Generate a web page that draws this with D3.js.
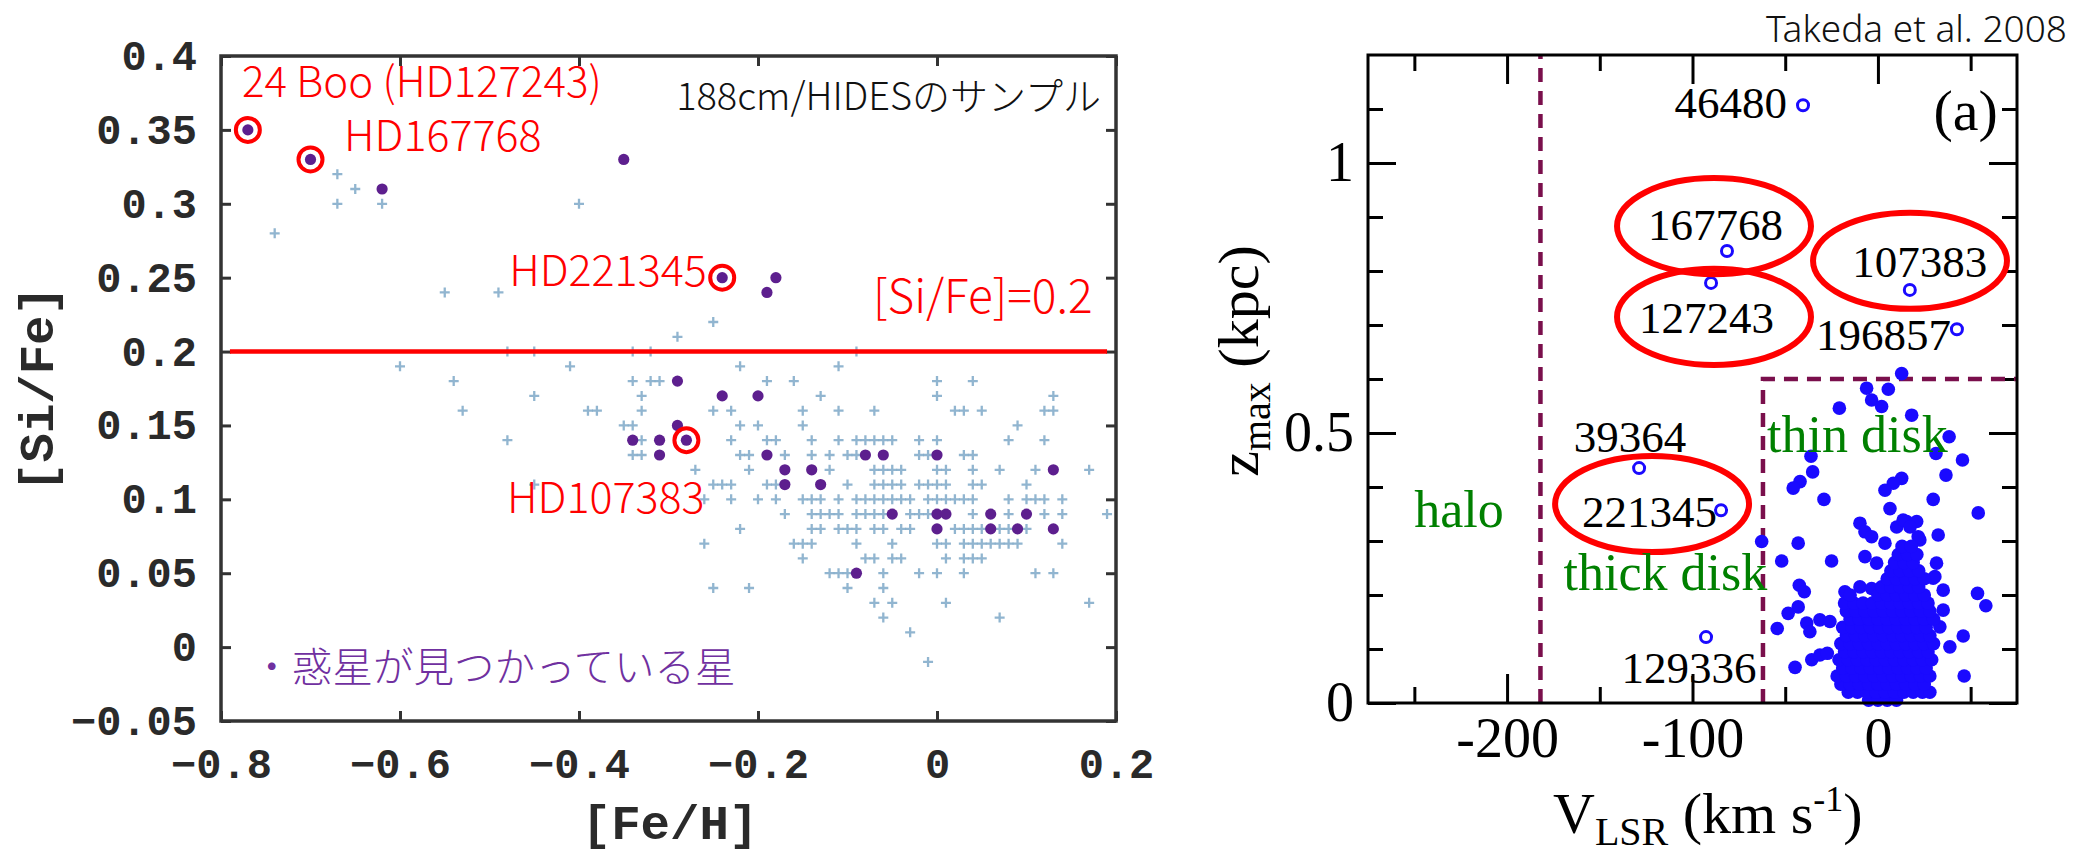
<!DOCTYPE html>
<html><head><meta charset="utf-8">
<script src="https://cdn.jsdelivr.net/npm/d3@7"></script>
<style>
html,body{margin:0;padding:0;background:#fff;}
svg{display:block;}
</style></head><body>
<svg id="chart" width="2087" height="855"></svg>
<script>
// ================= LEFT PANEL DATA ([Fe/H] vs [Si/Fe]) =================
const feHTicks = [-0.8, -0.6, -0.4, -0.2, 0, 0.2];
const feHTickLabels = ["−0.8", "−0.6", "−0.4", "−0.2", "0", "0.2"];
const siFeTicks = [-0.05, 0, 0.05, 0.1, 0.15, 0.2, 0.25, 0.3, 0.35, 0.4];
const siFeTickLabels = ["−0.05", "0", "0.05", "0.1", "0.15", "0.2", "0.25", "0.3", "0.35", "0.4"];

// comparison sample (light blue "+"), grouped by [Si/Fe] row
const sampleRowSiFe = [0.32,0.31,0.30,0.28,0.24,0.22,0.21,0.20,0.19,0.18,0.17,0.16,0.15,0.14,0.13,0.12,0.11,0.10,0.09,0.08,0.07,0.06,0.05,0.04,0.03,0.02,0.01,-0.01];
const sampleRowFeH = [
  [-0.67],
  [-0.65],
  [-0.67,-0.62,-0.40],
  [-0.74],
  [-0.55,-0.49],
  [-0.25],
  [-0.29],
  [-0.48,-0.45,-0.34,-0.32,-0.09],
  [-0.60,-0.41,-0.22,-0.11],
  [-0.54,-0.34,-0.32,-0.31,-0.19,-0.16,0.00,0.04],
  [-0.45,-0.33,-0.13,0.00,0.13],
  [-0.53,-0.39,-0.38,-0.33,-0.25,-0.23,-0.15,-0.11,-0.07,0.02,0.03,0.05,0.12,0.13],
  [-0.35,-0.34,-0.22,-0.20,-0.15,0.09],
  [-0.48,-0.33,-0.23,-0.19,-0.18,-0.14,-0.11,-0.09,-0.08,-0.07,-0.06,-0.05,-0.02,0.00,0.08,0.12],
  [-0.34,-0.33,-0.22,-0.21,-0.17,-0.14,-0.12,-0.10,-0.09,-0.02,-0.01,0.03,0.04],
  [-0.27,-0.21,-0.12,-0.07,-0.06,-0.05,-0.04,0.00,0.01,0.04,0.07,0.11,0.17],
  [-0.45,-0.25,-0.24,-0.23,-0.19,-0.18,-0.10,-0.07,-0.06,-0.05,-0.04,-0.02,-0.01,0.00,0.01,0.04,0.05,0.10],
  [-0.26,-0.23,-0.20,-0.18,-0.15,-0.14,-0.13,-0.11,-0.09,-0.08,-0.07,-0.06,-0.05,-0.04,-0.03,-0.01,0.00,0.01,0.02,0.03,0.04,0.08,0.10,0.11,0.12,0.14],
  [-0.17,-0.14,-0.13,-0.12,-0.11,-0.09,-0.08,-0.07,-0.06,-0.03,-0.02,-0.01,0.04,0.08,0.12,0.14,0.19],
  [-0.22,-0.14,-0.13,-0.11,-0.10,-0.09,-0.07,-0.06,-0.04,-0.03,0.02,0.03,0.04,0.05,0.07,0.08,0.10],
  [-0.26,-0.16,-0.15,-0.14,-0.09,-0.05,0.00,0.01,0.03,0.04,0.05,0.06,0.07,0.08,0.09,0.14],
  [-0.15,-0.08,-0.07,-0.05,-0.04,0.01,0.03,0.04,0.05],
  [-0.12,-0.11,-0.10,-0.06,-0.02,0.00,0.03,0.11,0.13],
  [-0.25,-0.21,-0.10,-0.06],
  [-0.07,-0.05,0.01,0.17],
  [-0.06,0.07],
  [-0.03],
  [-0.01]
];

// planet-host stars (purple dots)
const planetFeH  = [-0.77,-0.70,-0.62,-0.35,-0.24,-0.18,-0.19,-0.29,-0.24,-0.20,-0.29,-0.34,-0.31,-0.28,-0.31,-0.19,-0.08,-0.06,0.00,-0.17,-0.14,0.13,-0.17,-0.13,-0.05,0.00,0.01,0.06,0.10,0.00,0.06,0.09,0.13,-0.09];
const planetSiFe = [0.35,0.33,0.31,0.33,0.25,0.25,0.24,0.18,0.17,0.17,0.15,0.14,0.14,0.14,0.13,0.13,0.13,0.13,0.13,0.12,0.12,0.12,0.11,0.11,0.09,0.09,0.09,0.09,0.09,0.08,0.08,0.08,0.08,0.05];

// highlighted stars (red rings)
const circledFeH  = [-0.77, -0.70, -0.24, -0.28];
const circledSiFe = [0.35, 0.33, 0.25, 0.14];

const siFeThreshold = 0.2;
const thresholdFeHRange = [-0.79, 0.19];

const leftNotes = ["24 Boo (HD127243)", "HD167768", "HD221345", "HD107383", "[Si/Fe]=0.2"];
const leftNoteFeH = [-0.7765, -0.6626, -0.478, -0.4804, -0.0715];
const leftNoteSiFe = [0.372, 0.3357, 0.2443, 0.0907, 0.226];

// ================= RIGHT PANEL DATA (V_LSR vs z_max) =================
const vMajorTicks = [-200, -100, 0];
const vMajorLabels = ["-200", "-100", "0"];
const vMinorTicks = [-250, -150, -50, 50];
const zMajorTicks = [0, 0.5, 1];
const zMajorLabels = ["0", "0.5", "1"];
const zMinorTicks = [0.1, 0.2, 0.3, 0.4, 0.6, 0.7, 0.8, 0.9, 1.1];

const haloBoundaryV = -182;
const thinDiskV = -62;
const thinDiskZ = 0.6;

// planet hosts (open circles)
const hostNames = ["46480", "167768", "127243", "107383", "196857", "39364", "221345", "129336"];
const hostV = [-40.4, -81.4, -90.0, 17.2, 42.6, -128.8, -84.6, -92.7];
const hostZ = [1.107, 0.837, 0.778, 0.765, 0.692, 0.435, 0.357, 0.122];
const hostLabelV = [-49.1, -87.6, -92.5, 22.6, 3.0, -133.7, -123.2, -101.9];
const hostLabelZ = [1.083, 0.857, 0.685, 0.789, 0.654, 0.465, 0.326, 0.037];
const hostLabelAnchor = ["end", "middle", "middle", "middle", "middle", "middle", "middle", "middle"];

// red ellipses around highlighted stars
const ellipseV = [-88.4, -88.4, 17.3, -121.8];
const ellipseZ = [0.883, 0.715, 0.819, 0.3685];
const ellipseHalfV = 52.3;
const ellipseHalfZ = 0.089;

const regionNames = ["halo", "thick disk", "thin disk"];
const regionV = [-225.9, -114.6, -11.1];
const regionZ = [0.326, 0.209, 0.465];

// isolated filled stars
const diskScatter = [
  [-6.1,0.583],[5.6,0.581],[-3.4,0.561],[2.0,0.549],[-20.8,0.546],[18.2,0.533],[12.8,0.61],[38.4,0.493],
  [-36.1,0.457],[31.3,0.462],[45.6,0.45],[-35.2,0.428],[-42.0,0.41],[-45.7,0.398],[12.8,0.416],[8.3,0.407],
  [3.8,0.394],[36.7,0.422],[-29.1,0.377],[29.8,0.377],[6.5,0.36],[54.1,0.352],[-9.7,0.333],[-7.0,0.317],
  [-3.4,0.308],[10.1,0.326],[15.5,0.336],[20.9,0.336],[13.6,0.339],[17.3,0.326],[22.6,0.302],[21.7,0.308],
  [32.5,0.311],[3.8,0.296],[-62.7,0.299],[-43.0,0.296],[-51.9,0.263],[-25.0,0.263],[-7.0,0.271],[-0.7,0.259],
  [31.6,0.259],[30.7,0.234],[-42.4,0.218],[-39.7,0.206],[29.8,0.231],[35.2,0.209],[53.7,0.203],[58.2,0.18],
  [-43.0,0.178],[-48.4,0.166],[-54.3,0.138],[-38.4,0.148],[-36.7,0.132],[-31.3,0.154],[-25.9,0.151],
  [46.0,0.124],[38.8,0.104],[-35.7,0.08],[-31.3,0.089],[-27.3,0.092],[-44.7,0.066],[46.5,0.05],
  [-17.8,0.206],[-9.7,0.215],[-3.4,0.212],[35.2,0.172],[33.4,0.141]
];
// dense thin-disk core, grouped by z row
const coreRowZ = [0.005,0.02,0.035,0.05,0.065,0.08,0.095,0.11,0.125,0.14,0.155,0.17,0.185,0.20,0.215,0.23,0.245,0.26,0.275,0.29];
const coreRowV = [
  [-5,0,5,10],
  [-16,-11,-6,-1,4,9,14,19,24,28],
  [-20,-15,-10,-5,0,5,10,15,20,25],
  [-22,-17,-12,-7,-2,3,8,13,18,23,28],
  [-19,-14,-9,-4,1,6,11,16,21,26],
  [-21,-16,-11,-6,-1,4,9,14,19,24,29],
  [-18,-13,-8,-3,2,7,12,17,22,27],
  [-20,-15,-10,-5,0,5,10,15,20,25,30],
  [-17,-12,-7,-2,3,8,13,18,23,28],
  [-19,-14,-9,-4,1,6,11,16,21,26],
  [-15,-10,-5,0,5,10,15,20,25,30],
  [-17,-12,-7,-2,3,8,13,18,23,28],
  [-18,-13,-8,-3,2,7,12,17,22,27],
  [-15,0,5,10,15,20,25],
  [2,7,12,17,22],
  [5,10,15,20,25],
  [7,12,17,22],
  [9,14,19],
  [11,16,21],
  [13,18]
];

// ================= DRAWING =================
const svg = d3.select("#chart");
svg.append("rect").attr("width", 2087).attr("height", 855).attr("fill", "#fff");

// ---------- LEFT ----------
const L = {left: 221, right: 1116, top: 56, bottom: 721};
const xL = d3.scaleLinear().domain([-0.8, 0.2]).range([L.left, L.right]);
const yL = d3.scaleLinear().domain([-0.05, 0.4]).range([L.bottom, L.top]);
const gL = svg.append("g");

function styleLeftAxis(g) {
  g.select(".domain").remove();
  g.selectAll(".tick line").attr("stroke", "#333").attr("stroke-width", 3);
  g.selectAll(".tick text")
    .attr("fill", "#2a2a2a")
    .style("font-family", "'Liberation Mono', 'DejaVu Sans Mono', monospace")
    .style("font-weight", "bold")
    .style("font-size", "42px");
}
gL.append("g").attr("transform", `translate(0,${L.bottom})`)
  .call(d3.axisBottom(xL).tickValues(feHTicks).tickSize(-10).tickPadding(27)
    .tickFormat(d => feHTickLabels[feHTicks.indexOf(d)]))
  .call(styleLeftAxis);
gL.append("g").attr("transform", `translate(0,${L.top})`)
  .call(d3.axisTop(xL).tickValues(feHTicks).tickSize(-10).tickFormat(""))
  .call(styleLeftAxis);
gL.append("g").attr("transform", `translate(${L.left},0)`)
  .call(d3.axisLeft(yL).tickValues(siFeTicks).tickSize(-10).tickPadding(24)
    .tickFormat(d => siFeTickLabels[siFeTicks.indexOf(d)]))
  .call(styleLeftAxis);
gL.append("g").attr("transform", `translate(${L.right},0)`)
  .call(d3.axisRight(yL).tickValues(siFeTicks).tickSize(-10).tickFormat(""))
  .call(styleLeftAxis);

// comparison stars "+"
const samplePts = [];
sampleRowSiFe.forEach((s, i) => sampleRowFeH[i].forEach(f => samplePts.push([f, s])));
gL.append("g").selectAll("path").data(samplePts).join("path")
  .attr("transform", d => `translate(${xL(d[0])},${yL(d[1])})`)
  .attr("d", "M-5,0H5M0,-5V5")
  .attr("stroke", "#86aecb").attr("stroke-width", 2.3).attr("opacity", 0.9);

// threshold line
gL.append("line")
  .attr("x1", xL(thresholdFeHRange[0])).attr("x2", xL(thresholdFeHRange[1]))
  .attr("y1", yL(siFeThreshold)).attr("y2", yL(siFeThreshold))
  .attr("stroke", "#ff0000").attr("stroke-width", 4.5);

// planet hosts
gL.append("g").selectAll("circle").data(planetFeH).join("circle")
  .attr("cx", d => xL(d)).attr("cy", (d, i) => yL(planetSiFe[i]))
  .attr("r", 5.6).attr("fill", "#5d1f8e");

// red rings
gL.append("g").selectAll("circle").data(circledFeH).join("circle")
  .attr("cx", d => xL(d)).attr("cy", (d, i) => yL(circledSiFe[i]))
  .attr("r", 12).attr("fill", "none").attr("stroke", "#ff0000").attr("stroke-width", 4);

// frame
gL.append("rect").attr("x", L.left).attr("y", L.top)
  .attr("width", L.right - L.left).attr("height", L.bottom - L.top)
  .attr("fill", "none").attr("stroke", "#333").attr("stroke-width", 3.5);

const jp = "'Noto Sans CJK JP', 'Noto Sans', sans-serif";
const noteSizes = [42, 43, 43, 43, 46];
gL.append("g").selectAll("text").data(leftNotes).join("text")
  .attr("x", (d, i) => xL(leftNoteFeH[i])).attr("y", (d, i) => yL(leftNoteSiFe[i]))
  .attr("fill", "#ff0000").style("font-family", jp).style("font-weight", 300)
  .style("font-size", (d, i) => noteSizes[i] + "px")
  .text(d => d);

gL.append("text").attr("x", xL(0.1832)).attr("y", yL(0.3634)).attr("text-anchor", "end")
  .attr("fill", "#111").style("font-family", jp).style("font-weight", 300).style("font-size", "38px")
  .text("188cm/HIDESのサンプル");
gL.append("text").attr("x", xL(-0.766)).attr("y", yL(-0.0236))
  .attr("fill", "#7030a0").style("font-family", jp).style("font-weight", 300).style("font-size", "40.5px")
  .text("・惑星が見つかっている星");

// axis titles
gL.append("text").attr("x", 670).attr("y", 839).attr("text-anchor", "middle")
  .attr("fill", "#2a2a2a").style("font-family", "'Liberation Mono', monospace").style("font-weight", "bold")
  .style("font-size", "49px").text("[Fe/H]");
gL.append("text").attr("transform", "translate(53,389) rotate(-90)").attr("text-anchor", "middle")
  .attr("fill", "#2a2a2a").style("font-family", "'Liberation Mono', monospace").style("font-weight", "bold")
  .style("font-size", "49px").text("[Si/Fe]");

// ---------- RIGHT ----------
const R = {left: 1368, right: 2017, top: 55, bottom: 703};
const xR = d3.scaleLinear().domain([-275, 75]).range([R.left, R.right]);
const yR = d3.scaleLinear().domain([0, 1.2]).range([R.bottom, R.top]);
const gR = svg.append("g");
const serif = "'Liberation Serif', 'Times New Roman', serif";

function styleRightAxis(g) {
  g.select(".domain").remove();
  g.selectAll(".tick line").attr("stroke", "#000").attr("stroke-width", 3);
  g.selectAll(".tick text").attr("fill", "#000")
    .style("font-family", serif).style("font-size", "56px");
}
gR.append("g").attr("transform", `translate(0,${R.bottom})`)
  .call(d3.axisBottom(xR).tickValues(vMajorTicks).tickSize(-29).tickPadding(14)
    .tickFormat(d => vMajorLabels[vMajorTicks.indexOf(d)]))
  .call(styleRightAxis);
gR.append("g").attr("transform", `translate(0,${R.bottom})`)
  .call(d3.axisBottom(xR).tickValues(vMinorTicks).tickSize(-16).tickFormat(""))
  .call(styleRightAxis);
gR.append("g").attr("transform", `translate(0,${R.top})`)
  .call(d3.axisTop(xR).tickValues(vMajorTicks).tickSize(-29).tickFormat(""))
  .call(styleRightAxis);
gR.append("g").attr("transform", `translate(0,${R.top})`)
  .call(d3.axisTop(xR).tickValues(vMinorTicks).tickSize(-16).tickFormat(""))
  .call(styleRightAxis);
gR.append("g").attr("transform", `translate(${R.left},0)`)
  .call(d3.axisLeft(yR).tickValues(zMajorTicks).tickSize(-28).tickPadding(14)
    .tickFormat(d => zMajorLabels[zMajorTicks.indexOf(d)]))
  .call(styleRightAxis);
gR.append("g").attr("transform", `translate(${R.left},0)`)
  .call(d3.axisLeft(yR).tickValues(zMinorTicks).tickSize(-15).tickFormat(""))
  .call(styleRightAxis);
gR.append("g").attr("transform", `translate(${R.right},0)`)
  .call(d3.axisRight(yR).tickValues(zMajorTicks).tickSize(-28).tickFormat(""))
  .call(styleRightAxis);
gR.append("g").attr("transform", `translate(${R.right},0)`)
  .call(d3.axisRight(yR).tickValues(zMinorTicks).tickSize(-15).tickFormat(""))
  .call(styleRightAxis);

// dashed boundaries
const line = d3.line().x(d => xR(d[0])).y(d => yR(d[1]));
gR.append("path").attr("d", line([[haloBoundaryV, 0], [haloBoundaryV, 1.2]]))
  .attr("fill", "none").attr("stroke", "#7a0f4c").attr("stroke-width", 4.5).attr("stroke-dasharray", "14,9");
gR.append("path").attr("d", line([[thinDiskV, 0], [thinDiskV, thinDiskZ], [75, thinDiskZ]]))
  .attr("fill", "none").attr("stroke", "#7a0f4c").attr("stroke-width", 4.5).attr("stroke-dasharray", "14,9");

// filled disk stars
const diskPts = diskScatter.slice();
coreRowZ.forEach((z, i) => coreRowV[i].forEach(v => diskPts.push([v, z])));
gR.append("g").selectAll("circle").data(diskPts).join("circle")
  .attr("cx", d => xR(d[0])).attr("cy", d => yR(d[1]))
  .attr("r", 6.8).attr("fill", "#1a0aff");

// open circles (planet hosts)
gR.append("g").selectAll("circle").data(hostV).join("circle")
  .attr("cx", d => xR(d)).attr("cy", (d, i) => yR(hostZ[i]))
  .attr("r", 5.5).attr("fill", "#fff").attr("stroke", "#1a0aff").attr("stroke-width", 3);

// host labels
gR.append("g").selectAll("text").data(hostNames).join("text")
  .attr("x", (d, i) => xR(hostLabelV[i])).attr("y", (d, i) => yR(hostLabelZ[i]))
  .attr("text-anchor", (d, i) => hostLabelAnchor[i])
  .attr("fill", "#000").style("font-family", serif).style("font-size", "45px")
  .text(d => d);

// red ellipses
gR.append("g").selectAll("ellipse").data(ellipseV).join("ellipse")
  .attr("cx", d => xR(d)).attr("cy", (d, i) => yR(ellipseZ[i]))
  .attr("rx", d => xR(d + ellipseHalfV) - xR(d))
  .attr("ry", (d, i) => yR(ellipseZ[i]) - yR(ellipseZ[i] + ellipseHalfZ))
  .attr("fill", "none").attr("stroke", "#ff0000").attr("stroke-width", 6);

// region labels
gR.append("g").selectAll("text").data(regionNames).join("text")
  .attr("x", (d, i) => xR(regionV[i])).attr("y", (d, i) => yR(regionZ[i]))
  .attr("text-anchor", "middle").attr("fill", "#008000")
  .style("font-family", serif).style("font-size", "52px").text(d => d);

// (a)
gR.append("text").attr("x", xR(64.7)).attr("y", yR(1.061)).attr("text-anchor", "end")
  .attr("fill", "#000").style("font-family", serif).style("font-size", "58px").text("(a)");

// frame
gR.append("rect").attr("x", R.left).attr("y", R.top)
  .attr("width", R.right - R.left).attr("height", R.bottom - R.top)
  .attr("fill", "none").attr("stroke", "#000").attr("stroke-width", 3);

// axis titles
const xt = gR.append("text").attr("x", 1553).attr("y", 833).attr("fill", "#000")
  .style("font-family", serif).style("font-size", "58px");
xt.append("tspan").text("V");
xt.append("tspan").attr("dy", 12).style("font-size", "40px").text("LSR");
xt.append("tspan").attr("dy", -12).text(" (km s");
xt.append("tspan").attr("dy", -22).style("font-size", "36px").text("-1");
xt.append("tspan").attr("dy", 22).text(")");

const yt = gR.append("text").attr("transform", "translate(1258,361) rotate(-90)")
  .attr("text-anchor", "middle").attr("fill", "#000")
  .style("font-family", serif).style("font-size", "58px");
yt.append("tspan").text("z");
yt.append("tspan").attr("dy", 12).style("font-size", "40px").text("max");
yt.append("tspan").attr("dy", -12).text(" (kpc)");

// credit
svg.append("text").attr("x", 2067).attr("y", 42).attr("text-anchor", "end")
  .attr("fill", "#111").style("font-family", "'Noto Sans', sans-serif").style("font-weight", 300).style("font-size", "37px")
  .text("Takeda et al. 2008");
</script>
</body></html>
